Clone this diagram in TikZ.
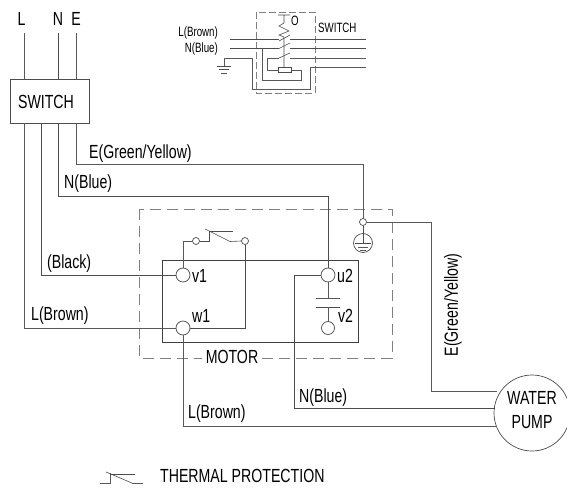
\documentclass[tikz,border=0pt]{standalone}
\usepackage{fontspec}
\setmainfont{Liberation Sans}
\tikzset{
  wire/.style={draw=black!65,line width=0.9pt},
  thin wire/.style={draw=black!70,line width=0.6pt},
  dashbox/.style={draw=black!50,line width=0.8pt,dash pattern=on 11pt off 6pt},
  term/.style={circle,draw=black!70,fill=white,line width=0.7pt,minimum size=14pt,inner sep=0pt},
  small term/.style={circle,draw=black!70,fill=white,line width=0.7pt,minimum size=7pt,inner sep=0pt},
  lab/.style={font=\fontsize{19}{19}\selectfont,inner sep=0pt,xscale=0.745},
  small lab/.style={font=\fontsize{13.5}{13.5}\selectfont,inner sep=0pt,xscale=0.72}
}
\begin{document}
\begin{tikzpicture}[x=1pt,y=-1pt]
\useasboundingbox (0,0) rectangle (567,487);
% top-left supply
\node[lab] (tL) at (21.5,19) {L};
\node[lab] (tN) at (58,19) {N};
\node[lab] (tE) at (76,19) {E};
\node[draw=black!70,line width=0.7pt,minimum width=79pt,minimum height=44pt,inner sep=0pt] (sw) at (49.5,101) {};
\node[lab] (swl) at (46,102) {SWITCH};
\coordinate (a1) at (24,33);\coordinate (a2) at (58,33);\coordinate (a3) at (76,33);
\draw[wire] (a1) -- (24,79);
\draw[thin wire] (a2) -- (58,79);
\draw[wire] (a3) -- (76,79);
% dashed motor box
\draw[dashbox] (139,209) rectangle (392,358);
\node[draw=black!75,line width=0.6pt,minimum width=196pt,minimum height=82pt,inner sep=0pt] (motor) at (260,301) {};
\node[fill=white,lab,inner xsep=5pt,inner ysep=3pt] (ml) at (232,357) {MOTOR};
% pump
\node[circle,draw=black!70,line width=0.7pt,fill=white,minimum size=76pt,inner sep=0pt] (pump) at (532,413) {};
% terminals
\node[term] (v1) at (183,275) {};
\node[term] (w1) at (183,328) {};
\node[term] (u2) at (328,275) {};
\node[term,minimum size=13pt] (v2) at (328,328) {};
\node[small term] (c1) at (196,241) {};
\node[small term] (c2) at (245,241) {};
\node[small term] (j) at (363,222) {};
\node[circle,draw=black!70,line width=0.7pt,minimum size=19pt,inner sep=0pt] (g) at (363,243) {};
% wires
\draw[wire] (24,123) -- (24,328) -- (w1.west);
\draw[thin wire] (41,123) -- (41,275) -- (v1.west);
\draw[thin wire] (58,123) -- (58,196) -- (328,196) -- (u2.north);
\draw[wire] (76,123) -- (76,164) -- (363,164) -- (j.north);
\draw[wire] (j.east) -- (431,222) -- (431,391) -- (497,391);
\draw[thin wire] (u2.west) -- (294,275) -- (294,408) -- (494.5,408);
\draw[wire] (w1.south) -- (183,426) -- (497,426);
\draw[wire] (v1.north) -- (183,241) -- (c1.west);
\draw[thin wire] (c1.east) -- (209,241) -- (209,231);
\draw[thin wire] (205,229) -- (230,241.5) -- (c2.west);
\draw[thin wire] (209,231) -- (233,231);
\draw[thin wire] (c2.south) -- (245,328) -- (w1.east);
\draw[wire] (u2.south) -- (328,298);
\draw[wire] (316,298) -- (340,298);
\draw[thin wire] (316,307) -- (340,307);
\draw[wire] (328,307) -- (v2.north);
\draw[thin wire] (j.south) -- (363,243);
\draw[thin wire] (355,243) -- (371,243);
\draw[wire] (358,247) -- (368,247);
\draw[wire] (360,250.5) -- (366,250.5);
% labels
\node[lab,anchor=west] at (89,154) {E(Green/Yellow)};
\node[lab,anchor=west] at (64,184) {N(Blue)};
\node[lab,anchor=west] at (47,264) {(Black)};
\node[lab,anchor=west] at (31,316) {L(Brown)};
\node[lab,anchor=west] at (192,276) {v1};
\node[lab,anchor=west] at (192,316) {w1};
\node[lab,anchor=west] at (337,276) {u2};
\node[lab,anchor=west] at (338,316) {v2};
\node[rotate=90,lab] at (453,305) {E(Green/Yellow)};
\node[lab,anchor=west] at (299,398) {N(Blue)};
\node[lab,anchor=west] at (188,414) {L(Brown)};
\node[lab] at (532,398) {WATER};
\node[lab] at (532,422) {PUMP};
% thermal legend
\draw[wire] (100,483) -- (110,483) -- (110,473);
\draw[thin wire] (106,472) -- (132,483);
\draw[wire] (132,483) -- (143,483);
\draw[thin wire] (110,474) -- (135,474);
\node[lab,anchor=west] at (160,476) {THERMAL PROTECTION};
% top switch
\draw[dashbox,dash pattern=on 7pt off 3pt,line width=0.6pt] (256,12) rectangle (315,93);
\node[small lab,anchor=east] at (218,33) {L(Brown)};
\node[small lab,anchor=east] at (218,49) {N(Blue)};
\node[small lab,anchor=west] at (318,28) {SWITCH};
\node[small lab,anchor=west] at (291,21) {O};
\draw[thin wire] (230,39) -- (279,39) (290,39) -- (366,39);
\draw[thin wire] (230,48) -- (279,48) (290,48) -- (366,48);
\draw[wire,line width=0.7pt] (290,58) -- (366,58);
\draw[wire,line width=0.7pt] (366,67) -- (310,67) -- (310,89) -- (252,89) -- (252,58) -- (224,58) -- (224,66);
\draw[thin wire] (217,66) -- (231,66) (219,69.5) -- (229,69.5) (221,73) -- (227,73);
\draw[thin wire] (278,15) -- (290,15) (284,15) -- (284,23) -- (279,26) -- (289,31) -- (279,35) -- (284,37) -- (284,67);
\draw[thin wire] (279,41) -- (290,35) (279,48.5) -- (290,43) (279,58) -- (290,53);
\draw[wire,line width=0.7pt] (262,48) -- (262,80) -- (301,80) -- (301,70) -- (291,70);
\draw[wire,line width=0.7pt] (279,58) -- (267,58) -- (267,70) -- (278,70);
\draw[thin wire] (278,67) rectangle (291,72);
\end{tikzpicture}
\end{document}
